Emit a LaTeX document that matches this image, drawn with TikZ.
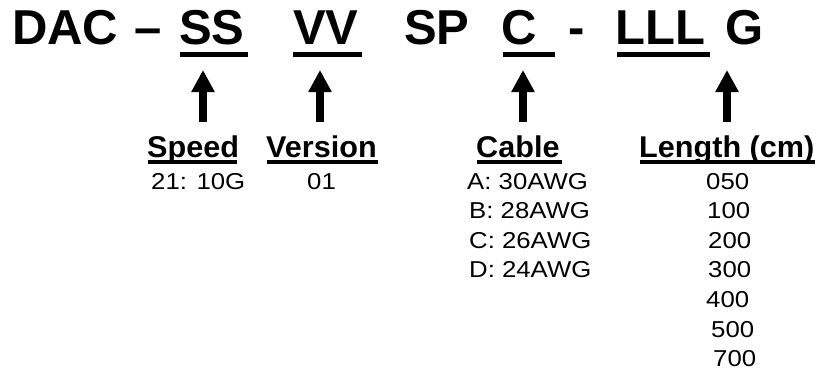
\documentclass[tikz,border=0pt]{standalone}
\usepackage{fontspec}
\usepackage{graphicx}
\setmainfont{Liberation Sans}
\usetikzlibrary{arrows.meta}
\newcommand\wideval[1]{\scalebox{1.12}[1]{#1}}
\newcommand\widehead[1]{\scalebox{1.02}[1]{#1}}
\begin{document}
\begin{tikzpicture}[x=1pt,y=-1pt,
  title/.style={anchor=base west,inner sep=0pt,font=\fontsize{49}{60}\selectfont\bfseries},
  head/.style={anchor=base west,inner sep=0pt,font=\fontsize{30}{36}\selectfont\bfseries},
  val/.style={anchor=base west,inner sep=0pt,font=\fontsize{23}{28}\selectfont},
  tul/.style={line width=5pt},
  hul/.style={line width=3.5pt},
  bigarrow/.style={line width=8pt,-{Triangle[length=22pt,width=22pt]}}]
\useasboundingbox (0,0) rectangle (818,372);
% title
\node[title] (dac) at (12,44) {DAC};
\node[title] (dash) at (134,44) {–};
\node[title] (ss) at (179,44) {SS};
\node[title] (vv) at (293,44) {VV};
\node[title] (sp) at (404,44) {SP};
\node[title] (c) at (501,44) {C};
\node[title] (hy) at (568,44) {-};
\node[title] (lll) at (615,44) {LLL};
\node[title] (g) at (725,44) {G};
\draw[tul] (180,54.5) -- (248,54.5);
\draw[tul] (293,54.5) -- (362,54.5);
\draw[tul] (503,54.5) -- (555,54.5);
\draw[tul] (617,54.5) -- (710,54.5);
% arrows
\coordinate (a1b) at (203,122); \coordinate (a1t) at (203,70);
\coordinate (a2b) at (320,122); \coordinate (a2t) at (320,70);
\coordinate (a3b) at (523,122); \coordinate (a3t) at (523,70);
\coordinate (a4b) at (727,122); \coordinate (a4t) at (727,70);
\draw[bigarrow] (a1b) -- (a1t);
\draw[bigarrow] (a2b) -- (a2t);
\draw[bigarrow] (a3b) -- (a3t);
\draw[bigarrow] (a4b) -- (a4t);
% headings
\node[head] (speed) at (147,157) {\widehead{Speed}};
\node[head] (version) at (266,157) {\widehead{Version}};
\node[head] (cable) at (476,157) {\widehead{Cable}};
\node[head] (length) at (639,157) {\widehead{Length (cm)}};
\draw[hul] (148,162) -- (237,162);
\draw[hul] (267,162) -- (378,162);
\draw[hul] (477,162) -- (562,162);
\draw[hul] (640,162) -- (815,162);
% values
\node[val] (s1) at (151,189) {\wideval{21: 10G}};
\node[val] (v1) at (307,189) {\wideval{01}};
\node[val] (ca) at (467,189) {\wideval{A: 30AWG}};
\node[val] (cb) at (469,218.6) {\wideval{B: 28AWG}};
\node[val] (cc) at (469,248.2) {\wideval{C: 26AWG}};
\node[val] (cd) at (469,277.8) {\wideval{D: 24AWG}};
\node[val] (l1) at (706,189) {\wideval{050}};
\node[val] (l2) at (707,218.6) {\wideval{100}};
\node[val] (l3) at (708,248.2) {\wideval{200}};
\node[val] (l4) at (708,277.8) {\wideval{300}};
\node[val] (l5) at (706,307.4) {\wideval{400}};
\node[val] (l6) at (711,337) {\wideval{500}};
\node[val] (l7) at (713,366.6) {\wideval{700}};
\end{tikzpicture}
\end{document}
